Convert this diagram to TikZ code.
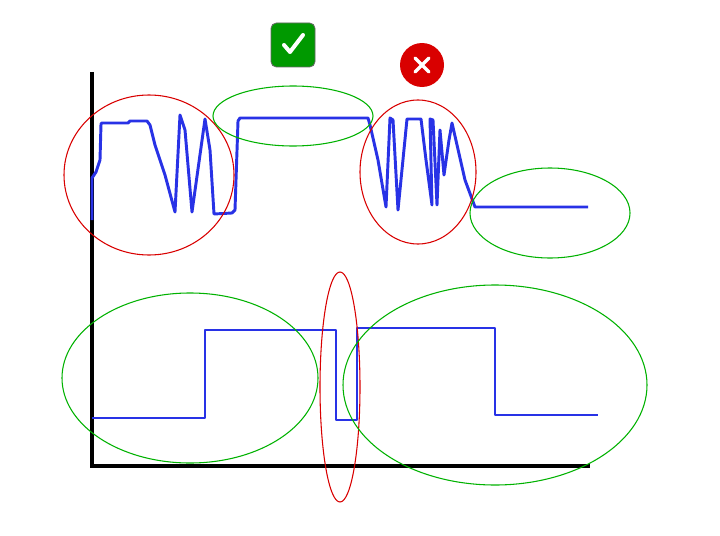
\documentclass[tikz,border=0pt]{standalone}
\usetikzlibrary{shapes.geometric,calc}
\begin{document}
\begin{tikzpicture}[x=0.75pt,y=-0.75pt,
  sig/.style={draw={rgb,255:red,40;green,50;blue,230},line width=2.2pt,line join=round},
  bad/.style={draw=red!85!black,line width=0.8pt},
  good/.style={draw=green!70!black,line width=0.8pt},
  axis/.style={draw=black,line width=2.6pt}]
\useasboundingbox[fill=white] (0,0) rectangle (720,535);
\coordinate (o) at (92,466);
\coordinate (yt) at (92,72);
\coordinate (xr) at (590,466);
\draw[axis] (yt) -- (o) -- (xr);
\draw[sig] (92,220) -- (92,178) -- (96,172) -- (100,160) -- (101,124) -- (102,123) -- (128,123) -- (130,121) -- (147,121) -- (150,125) -- (155,145) -- (165,175) -- (175,212) -- (180,115) -- (185,130) -- (192,212) -- (205,119) -- (210,150) -- (214,214) -- (232,213) -- (235,210) -- (238,121) -- (240,118) -- (368,118) -- (370,125) -- (378,160) -- (386,207) -- (390,118) -- (393,120) -- (398,210) -- (407,119) -- (421,119) -- (426,160) -- (432,205) -- (430,119) -- (433,120) -- (437,205) -- (440,130) -- (444,175) -- (449,140) -- (452,123) -- (465,180) -- (475,207) -- (588,207);
\draw[sig] (92,418) -- (205,418) -- (205,330) -- (336,330) -- (336,420) -- (357,420) -- (357,328) -- (495,328) -- (495,415) -- (598,415);
\node[bad,ellipse,minimum width=170*0.75pt,minimum height=160*0.75pt,draw] (e1) at (149,175) {};
\node[good,draw,ellipse,minimum width=160*0.75pt,minimum height=60*0.75pt] (e2) at (293,116) {};
\node[bad,draw,ellipse,minimum width=116*0.75pt,minimum height=144*0.75pt] (e3) at (418,172) {};
\node[good,draw,ellipse,minimum width=160*0.75pt,minimum height=90*0.75pt] (e4) at (550,213) {};
\node[good,draw,ellipse,minimum width=256*0.75pt,minimum height=170*0.75pt] (e5) at (190,378) {};
\node[bad,draw,ellipse,minimum width=40*0.75pt,minimum height=230*0.75pt] (e6) at (340,387) {};
\node[good,draw,ellipse,minimum width=304*0.75pt,minimum height=200*0.75pt] (e7) at (495,385) {};
\node[fill=green!60!black,rounded corners=4pt,minimum size=44*0.75pt,draw=black!60,line width=0.6pt] (ok) at (293,45) {};
\draw[white,line width=3pt,line cap=round,line join=round] ($(ok)+(-9,0)$) -- ($(ok)+(-3,7)$) -- ($(ok)+(10,-10)$);
\node[circle,fill=red!85!black,minimum size=44*0.75pt,inner sep=0pt] (no) at (422,65) {};
\draw[white,line width=2.5pt,line cap=round] ($(no)+(-7,-7)$) -- ($(no)+(7,7)$) ($(no)+(-7,7)$) -- ($(no)+(7,-7)$);
\end{tikzpicture}
\end{document}
